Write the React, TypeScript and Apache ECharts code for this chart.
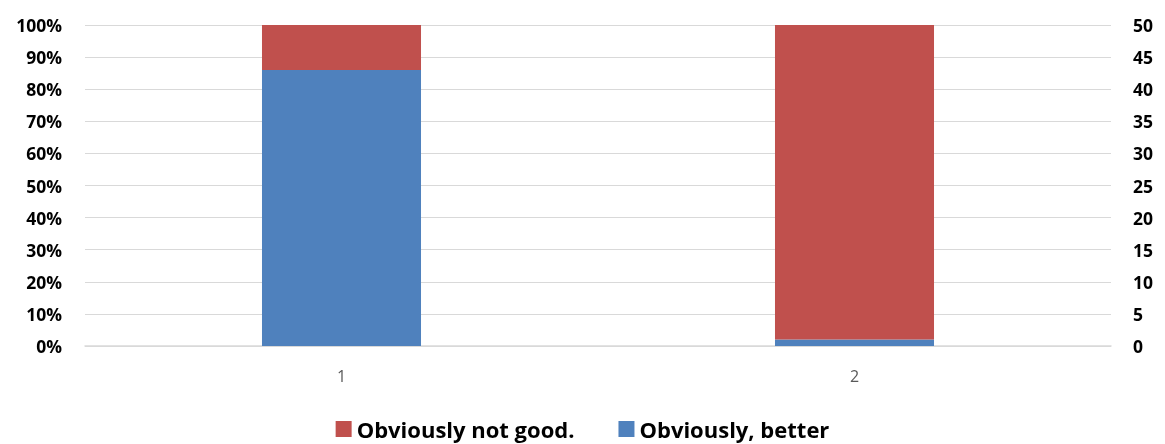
import React, { useEffect, useRef } from "react";
import * as echarts from "echarts";

const categories = ["1", "2"];
const betterValues = [86, 2];
const notGoodValues = [14, 98];
const leftTicks = { min: 0, max: 100, interval: 10 };
const rightTicks = { min: 0, max: 50, interval: 5 };

export default function App() {
  const ref = useRef<HTMLDivElement>(null);
  useEffect(() => {
    if (!ref.current) return;
    const chart = echarts.init(ref.current, null, { renderer: "svg" });
    const font = "'Open Sans', 'Liberation Sans', sans-serif";
    chart.setOption({
      animation: false,
      textStyle: { fontFamily: font },
      grid: { left: 85, right: 54, top: 25, bottom: 98, containLabel: false },
      legend: {
        bottom: -1,
        left: "center",
        itemWidth: 16,
        itemHeight: 16,
        itemGap: 44,
        itemTextGap: 6,
        icon: "rect",
        data: ["Obviously not good.", "Obviously, better"],
        textStyle: { fontSize: 22, fontWeight: "bold", color: "#000", fontFamily: font },
      },
      xAxis: {
        type: "category",
        data: categories,
        axisTick: { show: false },
        axisLine: { lineStyle: { color: "#d9d9d9", width: 1.5 } },
        axisLabel: { color: "#595959", fontSize: 16, margin: 22, fontFamily: font },
      },
      yAxis: [
        {
          type: "value",
          ...leftTicks,
          axisLabel: { formatter: "{value}%", color: "#000", fontWeight: "bold", fontSize: 17.5, margin: 23, fontFamily: font },
          splitLine: { lineStyle: { color: "#d9d9d9" } },
          axisLine: { show: false },
          axisTick: { show: false },
        },
        {
          type: "value",
          ...rightTicks,
          position: "right",
          axisLabel: { color: "#000", fontWeight: "bold", fontSize: 17.5, margin: 22, fontFamily: font },
          splitLine: { show: false },
          axisLine: { show: false },
          axisTick: { show: false },
        },
      ],
      series: [
        {
          name: "Obviously, better",
          type: "bar",
          stack: "total",
          data: betterValues,
          barWidth: "31%",
          itemStyle: { color: "#4F81BD" },
        },
        {
          name: "Obviously not good.",
          type: "bar",
          stack: "total",
          data: notGoodValues,
          barWidth: "31%",
          itemStyle: { color: "#C0504D" },
        },
      ],
    });
    return () => chart.dispose();
  }, []);
  return <div ref={ref} style={{ position: "fixed", left: 0, top: 0, width: 1165, height: 444 }} />;
}
